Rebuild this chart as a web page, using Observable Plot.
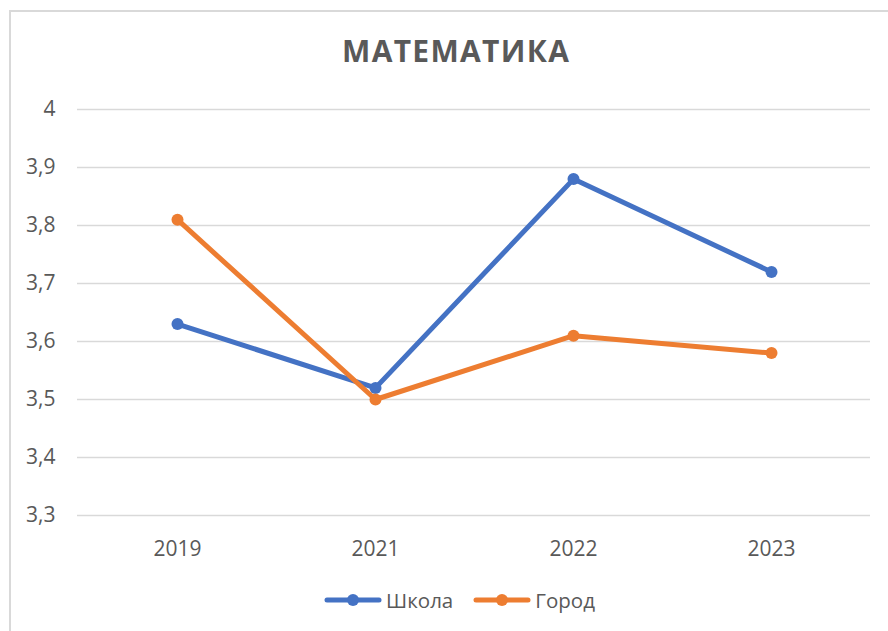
<!DOCTYPE html>
<html><head><meta charset="utf-8">
<script src="https://cdn.jsdelivr.net/npm/d3@7"></script>
<script src="https://cdn.jsdelivr.net/npm/@observablehq/plot@0.6"></script>
<style>
body{margin:0;width:888px;height:631px;overflow:hidden;background:#fff;font-family:"Open Sans",sans-serif;position:relative}
#frame{position:absolute;left:9px;top:10px;width:900px;height:700px;border:2px solid #d9d9d9;box-sizing:border-box}
#title{position:absolute;left:0;width:911px;top:30px;text-align:center;font-weight:700;font-size:30px;letter-spacing:1.3px;padding-left:1.3px;box-sizing:border-box;color:#595959}
#chart{position:absolute;left:0;top:0}
#legend{position:absolute;top:586px;left:0;width:919px;display:flex;justify-content:center;gap:20px;font-size:20.5px;color:#595959}
.item{display:flex;align-items:center;gap:4px}
</style></head>
<body>
<div id="frame"></div>
<div id="chart"></div>
<div id="title">МАТЕМАТИКА</div>
<div id="legend"></div>
<script>
const years = ["2019", "2021", "2022", "2023"];
const school = [3.63, 3.52, 3.88, 3.72];
const city = [3.81, 3.50, 3.61, 3.58];
const seriesNames = ["Школа", "Город"];
const colors = ["#4472C4", "#ED7D31"];
const yTicks = [3.3, 3.4, 3.5, 3.6, 3.7, 3.8, 3.9, 4];

const data = [];
[school, city].forEach((vals, si) => vals.forEach((v, i) => data.push({year: years[i], value: v, series: seriesNames[si]})));

const marks = [
  Plot.ruleY(yTicks, {stroke: "#d9d9d9", strokeWidth: 1.5}),
  Plot.axisY(yTicks, {tickSize: 0, tickPadding: 22, tickFormat: d => String(d).replace(".", ","), label: null}),
  Plot.axisX({tickSize: 0, tickPadding: 26, label: null})
];
seriesNames.forEach(s => {
  const sub = data.filter(d => d.series === s);
  marks.push(Plot.line(sub, {x: "year", y: "value", stroke: "series", strokeWidth: 5, strokeLinecap: "round", strokeLinejoin: "round"}));
  marks.push(Plot.dot(sub, {x: "year", y: "value", fill: "series", r: 6}));
});

const chart = Plot.plot({
  width: 888, height: 570,
  marginLeft: 77, marginRight: 18, marginTop: 109, marginBottom: 55,
  x: {type: "point", domain: years, padding: 0.5},
  y: {domain: [3.3, 4]},
  color: {domain: seriesNames, range: colors},
  style: {fontFamily: "Open Sans", fontSize: "21px", color: "#595959", background: "transparent"},
  marks
});
document.getElementById("chart").appendChild(chart);

const legend = document.getElementById("legend");
seriesNames.forEach((s, i) => {
  const item = document.createElement("div");
  item.className = "item";
  item.innerHTML = `<svg width="58" height="14"><line x1="3" y1="7" x2="55" y2="7" stroke="${colors[i]}" stroke-width="5" stroke-linecap="round"/><circle cx="29" cy="7" r="6" fill="${colors[i]}"/></svg><span>${s}</span>`;
  legend.appendChild(item);
});
</script>
</body></html>
